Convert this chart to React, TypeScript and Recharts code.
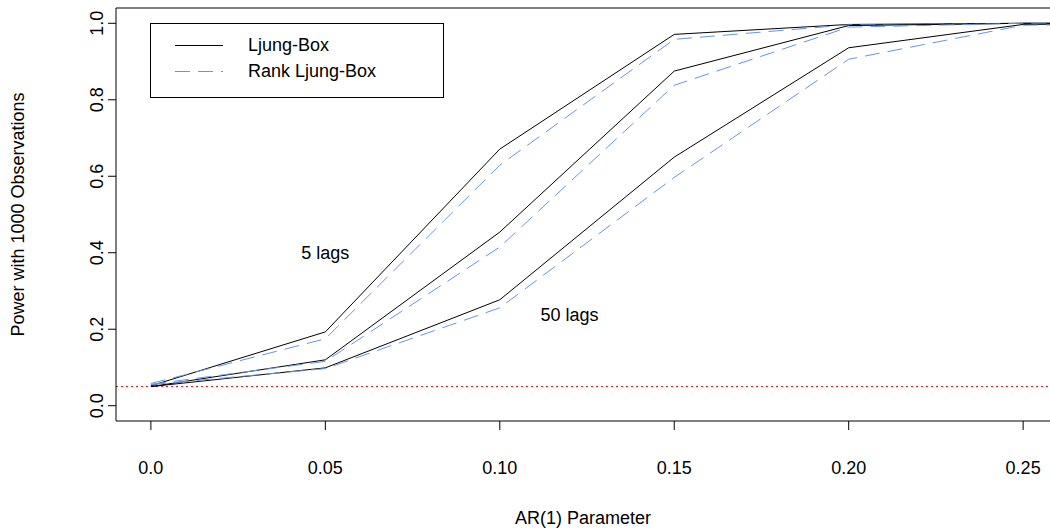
import React from 'react';
import { LineChart, Line, XAxis, YAxis, ReferenceLine, ReferenceDot, Legend } from 'recharts';

// AR(1) parameter values (x) and power for each lag setting
const arParams = [0, 0.05, 0.1, 0.15, 0.2, 0.25, 0.3];
const ljungBox5 = [0.052, 0.193, 0.671, 0.971, 0.997, 1.0, 1.0];
const rankLjungBox5 = [0.058, 0.175, 0.629, 0.958, 0.996, 1.0, 1.0];
const ljungBox10 = [0.05, 0.12, 0.454, 0.875, 0.994, 1.0, 1.0];
const rankLjungBox10 = [0.056, 0.116, 0.415, 0.838, 0.99, 1.0, 1.0];
const ljungBox50 = [0.05, 0.099, 0.277, 0.65, 0.936, 0.997, 1.0];
const rankLjungBox50 = [0.055, 0.097, 0.256, 0.597, 0.906, 0.995, 1.0];

const xTicks = [0, 0.05, 0.1, 0.15, 0.2, 0.25];
const xTickLabels = ['0.0', '0.05', '0.10', '0.15', '0.20', '0.25'];
const yTicks = [0, 0.2, 0.4, 0.6, 0.8, 1.0];
const yTickLabels = ['0.0', '0.2', '0.4', '0.6', '0.8', '1.0'];

const nominalLevel = 0.05;
const legendItems = [
  { name: 'Ljung-Box', color: '#000000', dash: undefined },
  { name: 'Rank Ljung-Box', color: '#6495ED', dash: '15 8' },
];
const lagLabels = [
  { text: '5 lags', x: 0.05, y: 0.4 },
  { text: '50 lags', x: 0.12, y: 0.238 },
];

const data = arParams.map((x, i) => ({
  x,
  lb5: ljungBox5[i],
  rank5: rankLjungBox5[i],
  lb10: ljungBox10[i],
  rank10: rankLjungBox10[i],
  lb50: ljungBox50[i],
  rank50: rankLjungBox50[i],
}));

const FONT = '"Liberation Sans", Arial, Helvetica, sans-serif';
const BLUE = '#6495ED';
const DASH = '15 8';

const XTick = (props: any) => {
  const idx = xTicks.indexOf(props.payload.value);
  return (
    <text x={props.x} y={props.y + 44} textAnchor="middle" fontSize={18} fontFamily={FONT} fill="#000">
      {xTickLabels[idx] ?? props.payload.value}
    </text>
  );
};

const YTick = (props: any) => {
  const idx = yTicks.indexOf(props.payload.value);
  const tx = props.x - 5;
  return (
    <text
      x={tx}
      y={props.y}
      textAnchor="middle"
      fontSize={18}
      fontFamily={FONT}
      fill="#000"
      transform={`rotate(-90, ${tx}, ${props.y})`}
    >
      {yTickLabels[idx] ?? props.payload.value}
    </text>
  );
};

const LegendBox = () => (
  <div
    style={{
      width: 292,
      height: 73,
      border: '1px solid #000',
      background: '#fff',
      fontFamily: FONT,
      fontSize: 18,
      position: 'relative',
      boxSizing: 'content-box',
    }}
  >
    {legendItems.map((item, i) => (
      <div key={item.name} style={{ position: 'absolute', left: 0, top: 9 + i * 26, height: 24, width: 292 }}>
        <svg width={80} height={24} style={{ position: 'absolute', left: 24, top: 0 }}>
          <line x1={0} y1={12.5} x2={48} y2={12.5} stroke={item.color} strokeWidth={1} strokeDasharray={item.dash} />
        </svg>
        <span style={{ position: 'absolute', left: 97, top: 1, lineHeight: '22px', whiteSpace: 'nowrap' }}>{item.name}</span>
      </div>
    ))}
  </div>
);

export default function App() {
  return (
    <div style={{ position: 'absolute', left: 0, top: 0, background: '#fff' }}>
      <LineChart width={1050} height={530} data={data} margin={{ top: 8, right: 0, left: 0, bottom: 0 }}>
        <XAxis
          dataKey="x"
          type="number"
          domain={[-0.01, 0.2577]}
          allowDataOverflow
          ticks={xTicks}
          tick={<XTick />}
          tickSize={9}
          tickMargin={0}
          height={109}
          axisLine={{ stroke: '#000' }}
          tickLine={{ stroke: '#000' }}
          label={(p: any) => (
            <text
              x={p.viewBox.x + p.viewBox.width / 2}
              y={p.viewBox.y + 103}
              textAnchor="middle"
              fontSize={18}
              fontFamily={FONT}
              fill="#000"
            >
              AR(1) Parameter
            </text>
          )}
        />
        <YAxis
          type="number"
          domain={[-0.04, 1.04]}
          allowDataOverflow
          ticks={yTicks}
          tick={<YTick />}
          tickSize={8}
          tickMargin={0}
          width={116}
          axisLine={{ stroke: '#000' }}
          tickLine={{ stroke: '#000' }}
          label={(p: any) => {
            const cx = 24;
            const cy = p.viewBox.y + p.viewBox.height / 2;
            return (
              <text
                x={cx}
                y={cy}
                textAnchor="middle"
                fontSize={18}
                fontFamily={FONT}
                fill="#000"
                transform={`rotate(-90, ${cx}, ${cy})`}
              >
                Power with 1000 Observations
              </text>
            );
          }}
        />
        <ReferenceLine y={1.04} stroke="#000" ifOverflow="visible" />
        <ReferenceLine y={nominalLevel} stroke="#ff0000" strokeDasharray="2 3" />

        <Line dataKey="lb5" stroke="#000" strokeWidth={1} dot={false} isAnimationActive={false} />
        <Line dataKey="rank5" stroke={BLUE} strokeWidth={1} strokeDasharray={DASH} dot={false} isAnimationActive={false} />
        <Line dataKey="lb10" stroke="#000" strokeWidth={1} dot={false} isAnimationActive={false} />
        <Line dataKey="rank10" stroke={BLUE} strokeWidth={1} strokeDasharray={DASH} dot={false} isAnimationActive={false} />
        <Line dataKey="lb50" stroke="#000" strokeWidth={1} dot={false} isAnimationActive={false} />
        <Line dataKey="rank50" stroke={BLUE} strokeWidth={1} strokeDasharray={DASH} dot={false} isAnimationActive={false} />

        {lagLabels.map((l) => (
          <ReferenceDot
            key={l.text}
            x={l.x}
            y={l.y}
            r={0}
            fill="none"
            stroke="none"
            label={{ value: l.text, position: 'center', fontSize: 18, fontFamily: FONT, fill: '#000' }}
          />
        ))}

        <Legend
          layout="vertical"
          align="center"
          verticalAlign="middle"
          wrapperStyle={{ left: 150, top: 23, width: 294, height: 75 }}
          content={<LegendBox />}
        />
      </LineChart>
    </div>
  );
}
